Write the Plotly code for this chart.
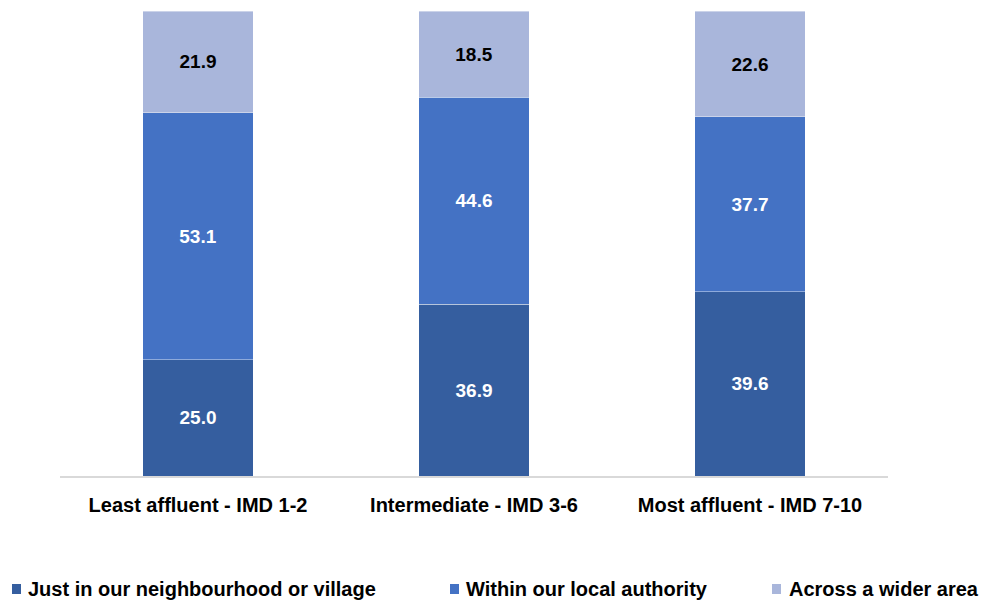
import plotly.graph_objects as go

categories = ["Least affluent - IMD 1-2", "Intermediate - IMD 3-6", "Most affluent - IMD 7-10"]
series_names = ["Just in our neighbourhood or village", "Within our local authority", "Across a wider area"]
neighbourhood = [25.0, 36.9, 39.6]
local_authority = [53.1, 44.6, 37.7]
wider_area = [21.9, 18.5, 22.6]
colors = ["#355E9F", "#4472C4", "#A9B6DB"]
label_colors = ["white", "white", "black"]

FONT = "Liberation Sans, Arial, sans-serif"

fig = go.Figure()
for name, vals, col, lc in zip(series_names, [neighbourhood, local_authority, wider_area], colors, label_colors):
    fig.add_trace(go.Bar(
        x=categories, y=vals, name=name,
        marker=dict(color=col, line=dict(color="rgba(255,255,255,0.5)", width=0.8)),
        text=[f"{v:.1f}" for v in vals], textposition="inside", insidetextanchor="middle",
        textfont=dict(family=FONT, size=19, color=lc, weight="bold"),
        showlegend=False,
    ))

# page is offset by 8px body margin
OFF = 8
W, H = 991 - OFF, 600 - OFF
L, R, T, B = 60 - OFF, 103, 11 - OFF, 124
pw, ph = W - L - R, H - T - B

def px_x(x):
    return (x - OFF - L) / pw

def px_y(y):
    return (H - B - (y - OFF)) / ph

fig.update_layout(
    width=W, height=H, barmode="stack", bargap=0.6,
    margin=dict(l=L, r=R, t=T, b=B),
    plot_bgcolor="white", paper_bgcolor="white",
    font=dict(family=FONT, color="black"),
    xaxis=dict(showline=True, linecolor="#D9D9D9", linewidth=1.5, ticks="",
               tickfont=dict(family=FONT, size=20, color="black", weight="bold"),
               ticklabelstandoff=10,
               range=[-0.5, 2.5]),
    yaxis=dict(range=[0, 100], visible=False, showgrid=False),
    showlegend=False,
)

leg_sq = [(12, 21), (450, 459), (772, 781)]
leg_txt_x = [26, 464, 787]
for name, col, (x0, x1), tx in zip(series_names, colors, leg_sq, leg_txt_x):
    fig.add_shape(type="rect", xref="paper", yref="paper",
                  x0=px_x(x0), x1=px_x(x1), y0=px_y(594), y1=px_y(584),
                  fillcolor=col, line=dict(width=0))
    fig.add_annotation(xref="paper", yref="paper", x=px_x(tx), y=px_y(589),
                       xanchor="left", yanchor="middle", showarrow=False,
                       text=name, font=dict(family=FONT, size=20, color="black", weight="bold"))

fig.write_html("out.html")
